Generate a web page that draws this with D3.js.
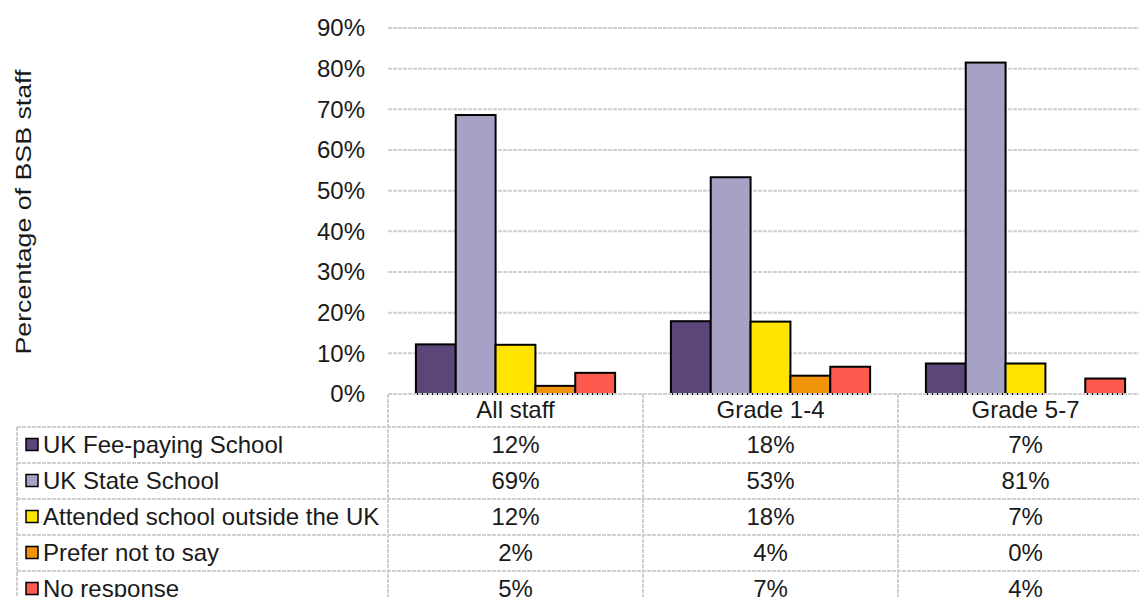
<!DOCTYPE html>
<html>
<head>
<meta charset="utf-8">
<script src="https://cdn.jsdelivr.net/npm/d3@7"></script>
<style>
  body { margin: 0; background: #fff; }
  text { font-family: "Liberation Sans", Arial, sans-serif; fill: #1a1a1a; }
</style>
</head>
<body>
<div id="chart"></div>
<script>
// Chart data
var categories = ["All staff", "Grade 1-4", "Grade 5-7"];
var seriesNames = ["UK Fee-paying School", "UK State School", "Attended school outside the UK", "Prefer not to say", "No response"];
var seriesColors = ["#5c4679", "#a6a2c6", "#ffe400", "#f2940a", "#ff5a4e"];
var feePaying = [12.2, 17.9, 7.5];
var stateSchool = [68.6, 53.3, 81.5];
var outsideUK = [12.1, 17.8, 7.5];
var preferNot = [2.0, 4.5, 0];
var noResponse = [5.2, 6.7, 3.8];
var tableLabels = [
  ["12%", "18%", "7%"],
  ["69%", "53%", "81%"],
  ["12%", "18%", "7%"],
  ["2%", "4%", "0%"],
  ["5%", "7%", "4%"]
];
var yTicks = [0, 10, 20, 30, 40, 50, 60, 70, 80, 90];

var seriesValues = [feePaying, stateSchool, outsideUK, preferNot, noResponse];

var width = 1139, height = 597;
var plotLeft = 388, plotRight = 1153, plotTop = 28, plotBottom = 394;
var tableLeft = 17, headerBottom = 427, rowHeight = 36;
var gridColor = "#d0d0d0";
var fontSize = "24px";

var svg = d3.select("#chart")
  .append("svg")
  .attr("width", width)
  .attr("height", height);

// Scales
var x = d3.scaleBand()
  .domain(categories)
  .range([plotLeft, plotRight])
  .paddingInner(0)
  .paddingOuter(0);

var xInner = d3.scaleBand()
  .domain(d3.range(seriesNames.length))
  .range([0, x.bandwidth()])
  .paddingOuter(0.7)
  .paddingInner(0);

var y = d3.scaleLinear()
  .domain([0, 90])
  .range([plotBottom, plotTop]);

// Gridlines
svg.append("g")
  .selectAll("line")
  .data(yTicks.filter(function (d) { return d > 0; }))
  .enter().append("line")
  .attr("x1", plotLeft)
  .attr("x2", width)
  .attr("y1", function (d) { return y(d); })
  .attr("y2", function (d) { return y(d); })
  .style("stroke", gridColor)
  .style("stroke-width", 2)
  .style("stroke-dasharray", "4,1");

// Y axis labels
var yAxis = d3.axisLeft(y)
  .tickValues(yTicks)
  .tickSize(0)
  .tickPadding(23)
  .tickFormat(function (d) { return d + "%"; });

var yAxisG = svg.append("g")
  .attr("transform", "translate(" + plotLeft + ",0)")
  .call(yAxis);
yAxisG.select(".domain").remove();
yAxisG.selectAll("text")
  .style("font-size", fontSize)
  .style("font-family", "'Liberation Sans', Arial, sans-serif")
  .attr("fill", "#1a1a1a");

// Y axis title
svg.append("text")
  .attr("transform", "translate(31," + 212 + ") rotate(-90)")
  .attr("text-anchor", "middle")
  .attr("textLength", 285)
  .attr("lengthAdjust", "spacingAndGlyphs")
  .style("font-size", "22px")
  .text("Percentage of BSB staff");

// Bars
var groups = svg.selectAll(".group")
  .data(categories)
  .enter().append("g")
  .attr("class", "group")
  .attr("transform", function (d) { return "translate(" + x(d) + ",0)"; });

groups.selectAll("rect")
  .data(function (d, ci) {
    return seriesValues.map(function (vals, si) { return { si: si, v: vals[ci] }; })
      .filter(function (b) { return b.v > 0; });
  })
  .enter().append("rect")
  .attr("x", function (d) { return xInner(d.si); })
  .attr("y", function (d) { return y(d.v); })
  .attr("width", xInner.bandwidth())
  .attr("height", function (d) { return y(0) - y(d.v); })
  .style("fill", function (d) { return seriesColors[d.si]; })
  .style("stroke", "#000")
  .style("stroke-width", 2);

// Data table
var table = svg.append("g");
var tableBottom = headerBottom + rowHeight * seriesNames.length;

// horizontal lines
table.append("line")
  .attr("x1", plotLeft).attr("x2", width)
  .attr("y1", plotBottom).attr("y2", plotBottom);
table.selectAll(".hline")
  .data(d3.range(seriesNames.length))
  .enter().append("line")
  .attr("class", "hline")
  .attr("x1", tableLeft).attr("x2", width)
  .attr("y1", function (i) { return headerBottom + i * rowHeight; })
  .attr("y2", function (i) { return headerBottom + i * rowHeight; });

// vertical lines
table.append("line")
  .attr("x1", tableLeft).attr("x2", tableLeft)
  .attr("y1", headerBottom).attr("y2", tableBottom);
table.selectAll(".vline")
  .data(categories)
  .enter().append("line")
  .attr("class", "vline")
  .attr("x1", function (d) { return x(d); })
  .attr("x2", function (d) { return x(d); })
  .attr("y1", plotBottom).attr("y2", tableBottom);

table.selectAll("line")
  .style("stroke", gridColor)
  .style("stroke-width", 2)
  .style("stroke-dasharray", "4,1");

// header
table.selectAll(".head")
  .data(categories)
  .enter().append("text")
  .attr("class", "head")
  .attr("x", function (d) { return x(d) + x.bandwidth() / 2; })
  .attr("y", 418)
  .attr("text-anchor", "middle")
  .style("font-size", fontSize)
  .text(function (d) { return d; });

// legend rows
var rows = table.selectAll(".row")
  .data(seriesNames)
  .enter().append("g")
  .attr("class", "row")
  .attr("transform", function (d, i) { return "translate(0," + (headerBottom + i * rowHeight) + ")"; });

rows.append("rect")
  .attr("x", 26)
  .attr("y", 11.5)
  .attr("width", 12)
  .attr("height", 12)
  .style("fill", function (d, i) { return seriesColors[i]; })
  .style("stroke", "#000")
  .style("stroke-width", 1.5);

rows.append("text")
  .attr("x", 43)
  .attr("y", 25.5)
  .style("font-size", fontSize)
  .text(function (d) { return d; });

rows.selectAll(".cell")
  .data(function (d, i) { return tableLabels[i].map(function (t, ci) { return { t: t, c: categories[ci] }; }); })
  .enter().append("text")
  .attr("class", "cell")
  .attr("x", function (d) { return x(d.c) + x.bandwidth() / 2; })
  .attr("y", 25.5)
  .attr("text-anchor", "middle")
  .style("font-size", fontSize)
  .text(function (d) { return d.t; });
</script>
</body>
</html>
